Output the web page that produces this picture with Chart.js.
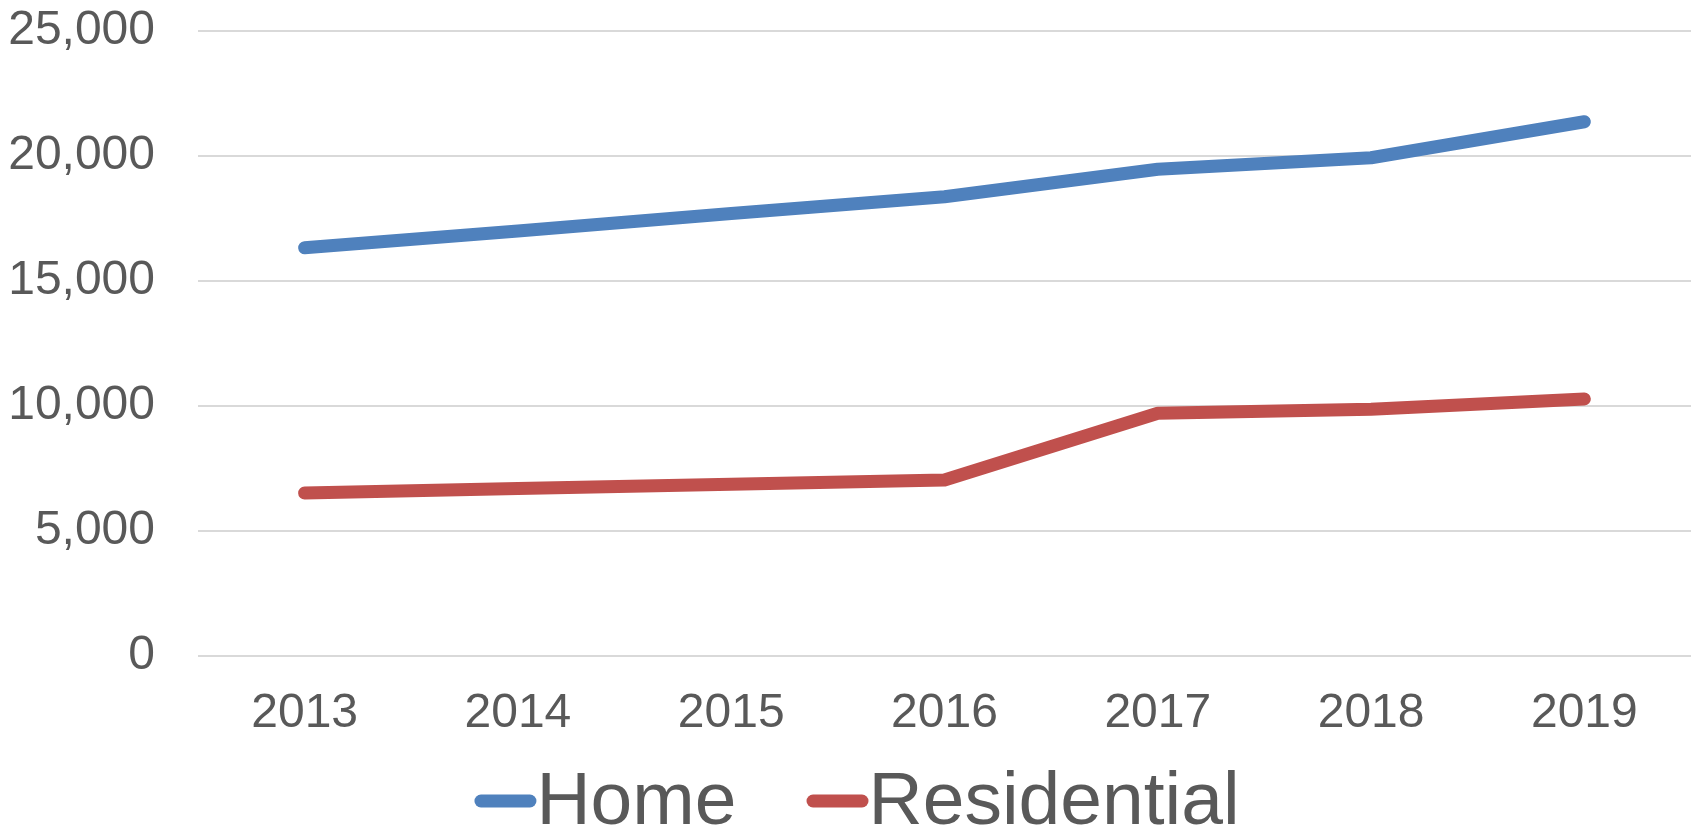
<!DOCTYPE html>
<html>
<head>
<meta charset="utf-8">
<script src="https://cdn.jsdelivr.net/npm/chart.js@4"></script>
<style>
html, body { margin: 0; padding: 0; background: #fff; }
#wrap { width: 1696px; height: 832px; }
</style>
</head>
<body>
<div id="wrap"><canvas id="chart" width="1696" height="832"></canvas></div>
<script>
const years = ["2013", "2014", "2015", "2016", "2017", "2018", "2019"];
const homeValues = [16330, 17000, 17700, 18370, 19470, 19930, 21370];
const residentialValues = [6520, 6700, 6870, 7040, 9710, 9870, 10280];
const yTicks = [0, 5000, 10000, 15000, 20000, 25000];

const textColor = "#595959";
const fontFamily = "'Liberation Sans', Arial, sans-serif";

// legend drawn by hand: short thick line right against the label, like Excel
const lineLegend = {
  id: "lineLegend",
  afterDraw(chart) {
    const ctx = chart.ctx;
    const sets = chart.data.datasets;
    const markW = 62, gap = 70, lw = 13;
    ctx.save();
    ctx.font = "75px " + fontFamily;
    const widths = sets.map(ds => markW + ctx.measureText(ds.label).width);
    const total = widths.reduce((a, b) => a + b, 0) + gap * (sets.length - 1);
    let x = chart.width / 2 + 9 - total / 2;
    const y = 801;
    sets.forEach((ds, i) => {
      ctx.strokeStyle = ds.borderColor;
      ctx.lineWidth = lw;
      ctx.lineCap = "round";
      ctx.beginPath();
      ctx.moveTo(x + lw / 2, y);
      ctx.lineTo(x + markW - lw / 2, y);
      ctx.stroke();
      ctx.fillStyle = textColor;
      ctx.textBaseline = "middle";
      ctx.fillText(ds.label, x + markW, y + 2);
      x += widths[i] + gap;
    });
    ctx.restore();
  }
};

new Chart(document.getElementById("chart"), {
  type: "line",
  data: {
    labels: years,
    datasets: [
      {
        label: "Home",
        data: homeValues,
        borderColor: "#4F81BD",
        backgroundColor: "#4F81BD",
        borderWidth: 13,
        borderCapStyle: "round",
        borderJoinStyle: "round",
        pointRadius: 0,
        tension: 0
      },
      {
        label: "Residential",
        data: residentialValues,
        borderColor: "#C0504D",
        backgroundColor: "#C0504D",
        borderWidth: 13,
        borderCapStyle: "round",
        borderJoinStyle: "round",
        pointRadius: 0,
        tension: 0
      }
    ]
  },
  options: {
    responsive: false,
    animation: false,
    layout: { padding: { left: 8, right: 5, top: 31, bottom: 92 } },
    plugins: {
      legend: { display: false },
      tooltip: { enabled: false }
    },
    scales: {
      x: {
        offset: true,
        grid: { display: false },
        border: { display: false },
        afterFit(axis) { axis.height = 84; },
        ticks: {
          color: textColor,
          padding: 21,
          font: { family: fontFamily, size: 48 }
        }
      },
      y: {
        min: 0,
        max: 25000,
        afterBuildTicks(axis) {
          axis.ticks = yTicks.map(v => ({ value: v }));
        },
        afterFit(axis) {
          axis.width = 190;
          axis.paddingTop = 0;
          axis.paddingBottom = 0;
        },
        grid: { color: "#D9D9D9", lineWidth: 2, drawTicks: false },
        border: { display: false },
        ticks: {
          color: textColor,
          padding: 43,
          font: { family: fontFamily, size: 48 },
          callback: v => v.toLocaleString("en-US")
        }
      }
    }
  },
  plugins: [lineLegend]
});
</script>
</body>
</html>
